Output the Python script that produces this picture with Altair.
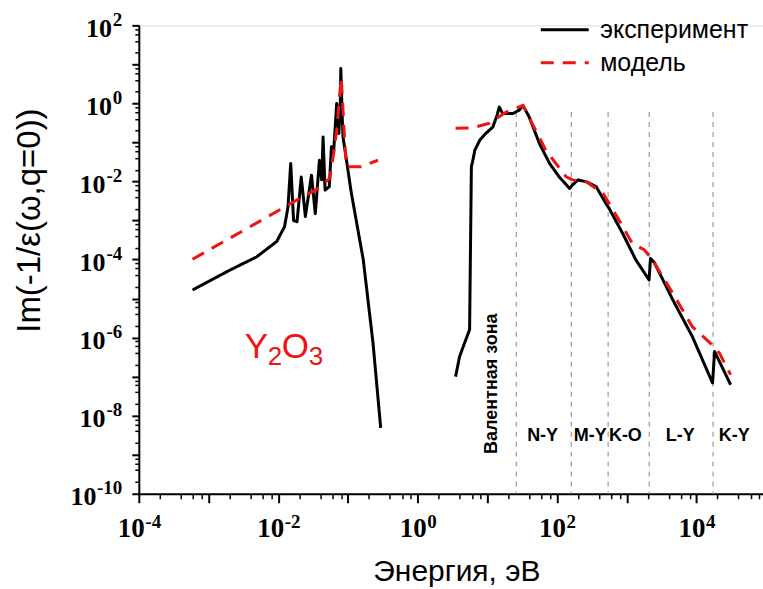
import altair as alt
import pandas as pd

# ---------------- data ----------------
# experiment, low-energy (phonon) part
exp_left_E = [5.9e-4, 2.04e-3, 4.9e-3, 9.5e-3, 0.0123, 0.0138, 0.0151, 0.0166, 0.0186, 0.0214,
              0.0245, 0.030, 0.034, 0.039, 0.042, 0.044, 0.047, 0.054, 0.058, 0.062,
              0.069, 0.074, 0.078, 0.079, 0.083, 0.085, 0.112, 0.166, 0.229, 0.295]
exp_left_V = [1.66e-5, 5.4e-5, 1.17e-4, 2.9e-4, 6.9e-4, 2.2e-3, 0.029, 1.0e-3, 9.3e-4, 0.013,
              1.26e-3, 0.0145, 1.5e-3, 0.035, 0.011, 0.138, 6.0e-3, 7.4e-3, 0.078, 0.05,
              1.0, 0.17, 1.25, 7.8, 0.4, 0.138, 5.0e-3, 9.8e-5, 7.2e-7, 4.9e-9]

# experiment, electronic part
exp_right_E = [3.5, 4.0, 4.7, 5.56, 5.9, 6.2, 6.6, 7.8, 9.5, 12.0,
               13.8, 14.8, 16.6, 23.4, 28.8, 32.4, 39.8, 56, 78, 107,
               151, 166, 200, 263, 363, 501, 562, 871, 1350, 2090,
               2190, 2510, 4570, 8710, 17000, 18200, 30900]
exp_right_V = [1.0e-7, 3.3e-7, 7.2e-7, 1.6e-6, 0.024, 0.035, 0.063, 0.115, 0.17, 0.25,
               0.5, 0.81, 0.55, 0.55, 0.68, 0.89, 0.45, 0.093, 0.029, 0.0132,
               6.6e-3, 8.1e-3, 0.011, 9.8e-3, 7.4e-3, 2.75e-3, 2.0e-3, 4.7e-4, 9.8e-5, 3.0e-5,
               1.07e-4, 8.1e-5, 9.3e-6, 1.07e-6, 6.9e-8, 4.4e-7, 6.2e-8]

# model, low-energy part
mod_left_E = [5.9e-4, 3.2e-3, 0.0182, 0.0355, 0.055, 0.062, 0.070, 0.076, 0.080, 0.083,
              0.088, 0.095, 0.155, 0.27]
mod_left_V = [1.02e-4, 5.6e-4, 3.3e-3, 6.3e-3, 0.012, 0.05, 0.25, 1.6, 4.5, 1.6,
              0.2, 0.024, 0.024, 0.035]

# model, electronic part
mod_right_E = [3.5, 5.9, 10.7, 18.6, 32.4, 69, 135, 166, 263, 457,
               776, 1200, 1780, 2340, 4570, 8710, 15800, 21400, 30900]
mod_right_V = [0.23, 0.234, 0.31, 0.60, 0.89, 0.063, 0.0132, 0.011, 9.8e-3, 5.0e-3,
               1.02e-3, 2.6e-4, 1.78e-4, 9.8e-5, 1.38e-5, 1.9e-6, 7.2e-7, 4.0e-7, 1.12e-7]

series_names = ["эксперимент", "модель"]

# absorption edges (dashed verticals) and labels
edge_E = [26, 160, 540, 2100, 17300]
edge_top = 0.6
edge_bottom = 1e-10
edge_labels = ["N-Y", "M-Y", "K-O", "L-Y", "K-Y"]
edge_label_E = [62, 300, 955, 5850, 34700]
edge_label_V = 3.1e-9

valence_text = "Валентная зона"
valence_E = 11.8
valence_V = 6.6e-8

# chemical formula Y2O3, written piece by piece (letters and subscripts)
formula_parts = ["Y", "2", "O", "3"]
formula_E = [3.32e-3, 7.10e-3, 0.01127, 0.02743]
formula_V = [3.04e-7, 2.01e-7, 3.04e-7, 2.01e-7]
formula_size = [35, 26, 35, 26]

# tick labels: base "10" with superscript exponent
x_major_ticks = [1e-4, 1e-3, 1e-2, 1e-1, 1e0, 1e1, 1e2, 1e3, 1e4]
x_label_values = [1e-4, 1e-2, 1e0, 1e2, 1e4]
x_label_exps = ["-4", "-2", "0", "2", "4"]
y_major_ticks = [1e-10, 1e-9, 1e-8, 1e-7, 1e-6, 1e-5, 1e-4, 1e-3, 1e-2, 1e-1, 1e0, 1e1, 1e2]
y_label_values = [1e-10, 1e-8, 1e-6, 1e-4, 1e-2, 1e0, 1e2]
y_label_exps = ["-10", "-8", "-6", "-4", "-2", "0", "2"]

# ---------------- build tables ----------------
rows = []
for seg, (E, V, s) in enumerate([(exp_left_E, exp_left_V, series_names[0]),
                                 (exp_right_E, exp_right_V, series_names[0]),
                                 (mod_left_E, mod_left_V, series_names[1]),
                                 (mod_right_E, mod_right_V, series_names[1])]):
    for i, (e, v) in enumerate(zip(E, V)):
        rows.append({"E": e, "V": v, "series": s, "segment": seg, "i": i})
curves = pd.DataFrame(rows)

edges = pd.DataFrame({"E": edge_E, "top": [edge_top] * len(edge_E), "bottom": [edge_bottom] * len(edge_E)})
edge_text = pd.DataFrame({"E": edge_label_E, "V": [edge_label_V] * len(edge_label_E), "t": edge_labels})
valence = pd.DataFrame({"E": [valence_E], "V": [valence_V], "t": [valence_text]})
formula = pd.DataFrame({"E": formula_E, "V": formula_V, "t": formula_parts, "s": formula_size})


def map_expr(values, labels):
    expr = "''"
    for v, lab in reversed(list(zip(values, labels))):
        expr = f"abs(datum.value / {v:g} - 1) < 0.01 ? '{lab}' : ({expr})"
    return expr


def minor_values(lo_exp, hi_exp):
    out = []
    for e in range(lo_exp, hi_exp + 1):
        for k in (2, 4, 6, 8):
            out.append(k * 10.0 ** e)
    return out


X_DOMAIN = [1e-4, 9e4]
Y_DOMAIN = [1e-10, 1e2]


def xs():
    return alt.Scale(type="log", domain=X_DOMAIN, nice=False)


def ys():
    return alt.Scale(type="log", domain=Y_DOMAIN, nice=False)


SERIF = "Liberation Serif"
SANS = "Liberation Sans"
RED = "#ee1414"

x_axis = alt.Axis(values=x_major_ticks, labelExpr=map_expr(x_label_values, ["10"] * len(x_label_values)),
                  grid=False, domainColor="black", domainWidth=2, tickColor="black",
                  tickWidth=2, tickSize=9, labelFont=SERIF, labelFontWeight="bold",
                  labelFontSize=27, labelColor="black", labelFlush=False, labelOverlap=False,
                  labelBaseline="top", labelPadding=13,
                  labelOffset={"condition": {"test": "datum.value < 0.1", "value": -8}, "value": -5},
                  title="Энергия, эВ", titleFont=SANS, titleFontSize=30, titleFontWeight="normal",
                  titleColor="black", titleX=318, titleY=78, titleBaseline="middle", titleAlign="center")
y_axis = alt.Axis(values=y_major_ticks, labelExpr=map_expr(y_label_values, ["10"] * len(y_label_values)),
                  grid=False, domainColor="black", domainWidth=2, tickColor="black",
                  tickWidth=2, tickSize=7, labelFont=SERIF, labelFontWeight="bold",
                  labelFontSize=26, labelColor="black", labelFlush=False, labelOverlap=False,
                  labelAlign="right", labelBaseline="middle", labelOffset=3,
                  labelPadding={"condition": [{"test": "datum.value < 1e-9", "value": 36},
                                              {"test": "datum.value < 0.5", "value": 27}],
                                "value": 20.5},
                  title="Im(-1/ε(ω,q=0))", titleFont=SANS, titleFontSize=33, titleFontWeight="normal",
                  titleColor="black", titleX=-109, titleY=195, titleBaseline="middle",
                  titleAlign="center", titleAngle=270)

legend = alt.Legend(title=None, orient="none", legendX=413, legendY=-9,
                    labelFont=SANS, labelFontSize=25, labelColor="black",
                    symbolType="M-2,0H2", symbolSize=576, symbolStrokeWidth=3,
                    rowPadding=6, labelOffset=22)

lines = alt.Chart(curves).mark_line(strokeWidth=3, clip=True, strokeJoin="round").encode(
    x=alt.X("E:Q", scale=xs(), axis=x_axis),
    y=alt.Y("V:Q", scale=ys(), axis=y_axis),
    color=alt.Color("series:N", scale=alt.Scale(domain=series_names, range=["black", RED]),
                    legend=legend),
    strokeDash=alt.StrokeDash("series:N", scale=alt.Scale(domain=series_names, range=[[1, 0], [13, 9]]),
                              legend=legend),
    detail="segment:N",
    order="i:Q",
)

vlines = alt.Chart(edges).mark_rule(color="#9a9a9a", strokeWidth=1.2, strokeDash=[5, 5]).encode(
    x=alt.X("E:Q", scale=xs()),
    y=alt.Y("top:Q", scale=ys()),
    y2="bottom:Q",
)

etext = alt.Chart(edge_text).mark_text(font=SANS, fontWeight="bold", fontSize=18,
                                       color="black", align="center", baseline="middle").encode(
    x=alt.X("E:Q", scale=xs()), y=alt.Y("V:Q", scale=ys()), text="t:N")

vtext = alt.Chart(valence).mark_text(font=SANS, fontWeight="bold", fontSize=18,
                                     color="black", align="center", baseline="middle", angle=270).encode(
    x=alt.X("E:Q", scale=xs()), y=alt.Y("V:Q", scale=ys()), text="t:N")

ftext = alt.Chart(formula).mark_text(font=SANS, color=RED, align="left", baseline="alphabetic").encode(
    x=alt.X("E:Q", scale=xs()), y=alt.Y("V:Q", scale=ys()), text="t:N",
    size=alt.Size("s:Q", scale=None, legend=None))

main = alt.layer(vlines, lines, etext, vtext, ftext)

dummy = pd.DataFrame({"E": [1.0], "V": [1.0]})

# minor ticks (axes only)
minor = alt.Chart(dummy).mark_point(opacity=0).encode(
    x=alt.X("E:Q", scale=xs(),
            axis=alt.Axis(values=minor_values(-4, 4), labels=False, domain=False, grid=False,
                          tickColor="black", tickWidth=1.5, tickSize=5, title=None, orient="bottom")),
    y=alt.Y("V:Q", scale=ys(),
            axis=alt.Axis(values=minor_values(-10, 1), labels=False, domain=False, grid=False,
                          tickColor="black", tickWidth=1.5, tickSize=4, title=None, orient="left")),
)

# superscript exponents of tick labels (axes only)
exps = alt.Chart(dummy).mark_point(opacity=0).encode(
    x=alt.X("E:Q", scale=xs(),
            axis=alt.Axis(values=x_label_values, labelExpr=map_expr(x_label_values, x_label_exps),
                          domain=False, grid=False, ticks=True, tickSize=9, tickOpacity=0,
                          labelFont=SERIF, labelFontWeight="bold", labelFontSize=19,
                          labelColor="black", labelAlign="left", labelBaseline="top",
                          labelPadding=10, labelFlush=False, labelOverlap=False,
                          labelOffset={"condition": {"test": "datum.value < 0.1", "value": 6},
                                       "value": 9},
                          title=None, orient="bottom")),
    y=alt.Y("V:Q", scale=ys(),
            axis=alt.Axis(values=y_label_values, labelExpr=map_expr(y_label_values, y_label_exps),
                          domain=False, grid=False, ticks=True, tickSize=7, tickOpacity=0,
                          labelFont=SERIF, labelFontWeight="bold", labelFontSize=19,
                          labelColor="black", labelAlign="right", labelBaseline="middle",
                          labelPadding=10, labelOffset=-6, labelFlush=False, labelOverlap=False,
                          title=None, orient="left")),
)

chart = alt.layer(main, minor, exps).resolve_scale(x="independent", y="independent").properties(
    width=625, height=469,
    padding={"left": 139, "top": 25, "right": 0, "bottom": 95},
    autosize=alt.AutoSizeParams(type="none"),
).configure_view(stroke=None).configure(background="white")

chart.save("out.html", embed_options={"renderer": "svg", "actions": False})
